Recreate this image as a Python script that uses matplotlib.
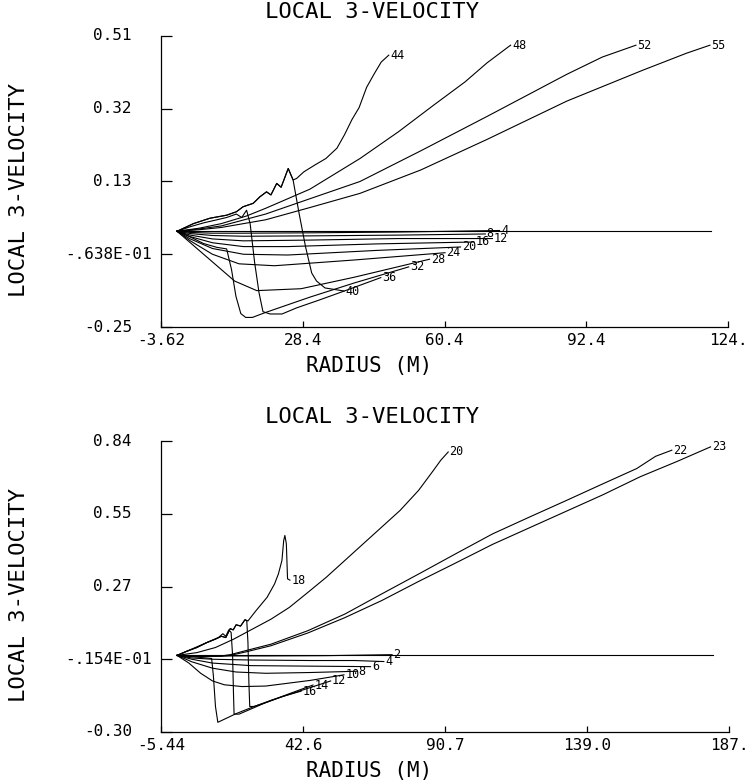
import matplotlib
matplotlib.use('Agg')
import matplotlib.pyplot as plt
from matplotlib.transforms import offset_copy

plt.rcParams['font.family'] = ['DejaVu Sans Mono']

# ---------------- TOP PANEL DATA ----------------
top_xlim = (-3.62, 124.38)
top_ylim = (-0.25, 0.51)
top_xticks = [-3.62, 28.38, 60.38, 92.38, 124.38]
top_xticklabels = ['-3.62', '28.4', '60.4', '92.4', '124.']
top_yticks = [0.51, 0.32, 0.13, -0.06, -0.25]
top_yticklabels = ['0.51', '0.32', '0.13', '-.638E-01', '-0.25']

t_r00 = [0.0, 120.6]
t_v00 = [0.0, 0.0]
t_r04 = [0, 3, 8, 15, 30, 50, 72.8]
t_v04 = [0, -0.003, -0.005, -0.005, -0.004, -0.002, 0.002]
t_r08 = [0, 3, 8, 15, 30, 50, 69.6]
t_v08 = [0, -0.006, -0.011, -0.013, -0.012, -0.010, -0.007]
t_r12 = [0, 3, 8, 15, 30, 50, 71.2]
t_v12 = [0, -0.010, -0.020, -0.025, -0.023, -0.019, -0.019]
t_r16 = [0, 3, 8, 15, 25, 45, 67.0]
t_v16 = [0, -0.014, -0.030, -0.040, -0.040, -0.033, -0.028]
t_r20 = [0, 3, 8, 15, 25, 45, 64.0]
t_v20 = [0, -0.020, -0.045, -0.060, -0.062, -0.050, -0.041]
t_r24 = [0, 3, 8, 14, 22, 40, 60.5]
t_v24 = [0, -0.025, -0.060, -0.085, -0.090, -0.075, -0.056]
t_r28 = [0, 3, 8, 13, 18, 28, 40, 57.0]
t_v28 = [0, -0.030, -0.080, -0.130, -0.155, -0.150, -0.120, -0.073]
t_r32 = [0, 3, 6, 9, 11.2, 12.3, 13.3, 14.4, 15.5, 17, 20, 25, 30, 40, 52.3]
t_v32 = [0, -0.015, -0.032, -0.042, -0.046, -0.100, -0.170, -0.215, -0.225, -0.225,
         -0.212, -0.192, -0.172, -0.135, -0.093]
t_r36 = [0, 3, 6, 9, 11.2, 13.4, 14.6, 15.7, 16.5, 17.5, 18.5, 19.4, 21, 23.7, 27, 32, 38, 46.0]
t_v36 = [0, 0.012, 0.022, 0.030, 0.036, 0.045, 0.036, 0.055, 0.020, -0.080, -0.160,
         -0.210, -0.216, -0.216, -0.200, -0.180, -0.155, -0.121]
t_r40 = [0, 3.7, 7.4, 11.2, 13.4, 14.9, 17.2, 18.7, 20.2, 21.2, 22.5, 23.5, 25.1, 26.2,
         27.5, 29, 30.4, 31.5, 33.4, 37.7]
t_v40 = [0, 0.020, 0.034, 0.042, 0.051, 0.064, 0.073, 0.090, 0.103, 0.095, 0.125, 0.115,
         0.164, 0.134, 0.050, -0.040, -0.109, -0.130, -0.148, -0.156]
t_r44 = [0, 3.7, 7.4, 11.2, 13.4, 14.9, 17.2, 18.7, 20.2, 21.2, 22.5, 23.5, 25.1, 26.2,
         27, 28.6, 31.1, 33.6, 36.1, 37.8, 39.5, 41.1, 42.8, 44.5, 46.1, 47.8]
t_v44 = [0, 0.020, 0.034, 0.042, 0.051, 0.064, 0.073, 0.090, 0.103, 0.095, 0.125, 0.115,
         0.164, 0.134, 0.138, 0.155, 0.173, 0.190, 0.217, 0.252, 0.292, 0.323, 0.376,
         0.411, 0.442, 0.460]
t_r48 = [0, 5, 10, 15.7, 20, 30, 41.3, 50, 58, 65, 70, 75.3]
t_v48 = [0, 0.008, 0.020, 0.040, 0.060, 0.110, 0.190, 0.260, 0.330, 0.390, 0.440, 0.486]
t_r52 = [0, 5, 10, 20, 30, 41.3, 55, 70, 88, 96, 103.6]
t_v52 = [0, 0.006, 0.014, 0.045, 0.085, 0.130, 0.210, 0.300, 0.410, 0.455, 0.486]
t_r55 = [0, 5, 10, 20, 30, 41.3, 55, 70, 88, 105, 115, 120.3]
t_v55 = [0, 0.004, 0.010, 0.030, 0.062, 0.099, 0.160, 0.240, 0.340, 0.420, 0.465, 0.486]

# ---------------- BOTTOM PANEL DATA ----------------
bot_xlim = (-5.44, 186.86)
bot_ylim = (-0.30, 0.84)
bot_xticks = [-5.44, 42.64, 90.71, 138.79, 186.86]
bot_xticklabels = ['-5.44', '42.6', '90.7', '139.0', '187.']
bot_yticks = [0.84, 0.555, 0.27, -0.015, -0.30]
bot_yticklabels = ['0.84', '0.55', '0.27', '-.154E-01', '-0.30']

b_r00 = [0.0, 181.3]
b_v00 = [0.0, 0.0]
b_r02 = [0, 10, 30, 50, 72.8]
b_v02 = [0, -0.002, -0.002, -0.001, 0.003]
b_r04 = [0, 5, 12, 25, 45, 60, 70.0]
b_v04 = [0, -0.010, -0.015, -0.018, -0.020, -0.020, -0.024]
b_r06 = [0, 5, 12, 25, 45, 65.5]
b_v06 = [0, -0.015, -0.030, -0.040, -0.042, -0.044]
b_r08 = [0, 5, 12, 20, 30, 45, 61.0]
b_v08 = [0, -0.025, -0.050, -0.065, -0.070, -0.067, -0.062]
b_r10 = [0, 4, 8, 12, 16, 22, 30, 45, 56.5]
b_v10 = [0, -0.030, -0.070, -0.100, -0.115, -0.122, -0.120, -0.098, -0.076]
b_r12 = [0, 5, 10, 11.7, 12.3, 13.0, 13.8, 16, 20, 25, 32, 40, 52.0]
b_v12 = [0, -0.005, -0.010, -0.012, -0.080, -0.200, -0.262, -0.250, -0.228, -0.205,
         -0.175, -0.145, -0.100]
b_r14 = [0, 4, 8, 12, 14, 15.5, 16.5, 17.5, 18.3, 18.8, 19.1, 19.3, 21, 25, 30, 38, 46.0]
b_v14 = [0, 0.020, 0.040, 0.060, 0.070, 0.085, 0.075, 0.100, 0.090, 0.000, -0.150,
         -0.230, -0.230, -0.210, -0.185, -0.150, -0.116]
b_r16 = [0, 3, 6.7, 10, 13, 15, 16.5, 18, 19, 20, 21.5, 23, 23.6, 24, 24.3, 24.6, 26, 30, 36, 42.0]
b_v16 = [0, 0.015, 0.031, 0.050, 0.064, 0.075, 0.070, 0.105, 0.100, 0.120, 0.115, 0.140,
         0.135, 0.050, -0.100, -0.200, -0.200, -0.185, -0.160, -0.140]
b_r18 = [0, 3, 6.7, 10, 13, 15, 16.5, 18, 19, 20, 21.5, 23, 24, 26.7, 28.5, 30.5, 33, 34.3,
         35.5, 36.1, 36.5, 37.0, 37.4, 38.2]
b_v18 = [0, 0.015, 0.031, 0.050, 0.064, 0.075, 0.070, 0.105, 0.100, 0.120, 0.115, 0.140,
         0.135, 0.175, 0.200, 0.228, 0.280, 0.319, 0.372, 0.450, 0.470, 0.437, 0.300, 0.295]
b_r20 = [0, 6.7, 13, 19.2, 25.5, 31.8, 38, 44.3, 50.5, 56.8, 63, 69.3, 75.5, 81.8, 86.8,
         89.3, 91.8]
b_v20 = [0, 0.011, 0.031, 0.064, 0.103, 0.142, 0.188, 0.247, 0.306, 0.372, 0.437, 0.503,
         0.568, 0.647, 0.725, 0.765, 0.797]
b_r22 = [0, 8, 15, 18, 23, 31.8, 44.3, 56.8, 69.3, 81.8, 94.3, 106.8, 119.3, 131.8, 144.3,
         155.6, 162, 167.5]
b_v22 = [0, -0.004, -0.002, 0.003, 0.018, 0.044, 0.097, 0.162, 0.241, 0.319, 0.398, 0.476,
         0.542, 0.607, 0.673, 0.732, 0.780, 0.804]
b_r23 = [0, 8, 15, 18, 23, 31.8, 44.3, 56.8, 69.3, 81.8, 94.3, 106.8, 119.3, 131.8, 144.3,
         156.8, 169.3, 180.6]
b_v23 = [0, -0.004, -0.003, 0.000, 0.013, 0.038, 0.088, 0.148, 0.215, 0.290, 0.362, 0.435,
         0.500, 0.565, 0.630, 0.700, 0.760, 0.817]

top_curves = [(None, t_r00, t_v00), ('4', t_r04, t_v04), ('8', t_r08, t_v08),
              ('12', t_r12, t_v12), ('16', t_r16, t_v16), ('20', t_r20, t_v20),
              ('24', t_r24, t_v24), ('28', t_r28, t_v28), ('32', t_r32, t_v32),
              ('36', t_r36, t_v36), ('40', t_r40, t_v40), ('44', t_r44, t_v44),
              ('48', t_r48, t_v48), ('52', t_r52, t_v52), ('55', t_r55, t_v55)]
bot_curves = [(None, b_r00, b_v00), ('2', b_r02, b_v02), ('4', b_r04, b_v04),
              ('6', b_r06, b_v06), ('8', b_r08, b_v08), ('10', b_r10, b_v10),
              ('12', b_r12, b_v12), ('14', b_r14, b_v14), ('16', b_r16, b_v16),
              ('18', b_r18, b_v18), ('20', b_r20, b_v20), ('22', b_r22, b_v22),
              ('23', b_r23, b_v23)]

W, H = 753, 782
fig = plt.figure(figsize=(W / 100, H / 100), dpi=100)


def panel(rect_px, xlim, ylim, xticks, xticklabels, yticks, yticklabels, curves):
    x0, y0, x1, y1 = rect_px
    h = y1 - y0
    ax = fig.add_axes([x0 / W, 1 - y1 / H, (x1 - x0) / W, h / H])
    ax.set_xlim(*xlim)
    ax.set_ylim(*ylim)
    for s in ('top', 'right'):
        ax.spines[s].set_visible(False)
    for s in ('left', 'bottom'):
        ax.spines[s].set_linewidth(0.9)
    ax.set_xticks(xticks)
    ax.set_xticklabels(xticklabels, fontsize=11.5)
    ax.tick_params(axis='x', direction='in', length=4, width=0.9, pad=4)
    ax.set_yticks(yticks)
    ax.tick_params(axis='y', direction='in', length=8, width=0.9, labelleft=False)
    ytr = ax.get_yaxis_transform()
    for val, lab in zip(yticks, yticklabels):
        dx = -9 if 'E' in lab else -29
        ax.text(0, val, lab, transform=offset_copy(ytr, fig=fig, x=dx, y=0, units='dots'),
                ha='right', va='center', fontsize=11.5)
    for lab, r, v in curves:
        ax.plot(r, v, color='black', lw=0.8)
        if lab:
            ax.annotate(lab, xy=(r[-1], v[-1]), xytext=(1, 0), textcoords='offset points',
                        ha='left', va='center', fontsize=8.5)
    ax.text(0.372, 1 + 24 / h, 'LOCAL 3-VELOCITY', transform=ax.transAxes,
            ha='center', va='center', fontsize=16)
    ax.set_xlabel('RADIUS (M)', fontsize=15)
    ax.xaxis.set_label_coords(0.367, -0.098)
    ax.set_ylabel('LOCAL 3-VELOCITY', fontsize=16)
    ax.yaxis.set_label_coords(-0.233, 0.472)
    return ax


panel((161, 36, 728, 327), top_xlim, top_ylim, top_xticks, top_xticklabels,
      top_yticks, top_yticklabels, top_curves)
panel((161, 441, 729, 732), bot_xlim, bot_ylim, bot_xticks, bot_xticklabels,
      bot_yticks, bot_yticklabels, bot_curves)

fig.savefig('out.png', dpi=100)
